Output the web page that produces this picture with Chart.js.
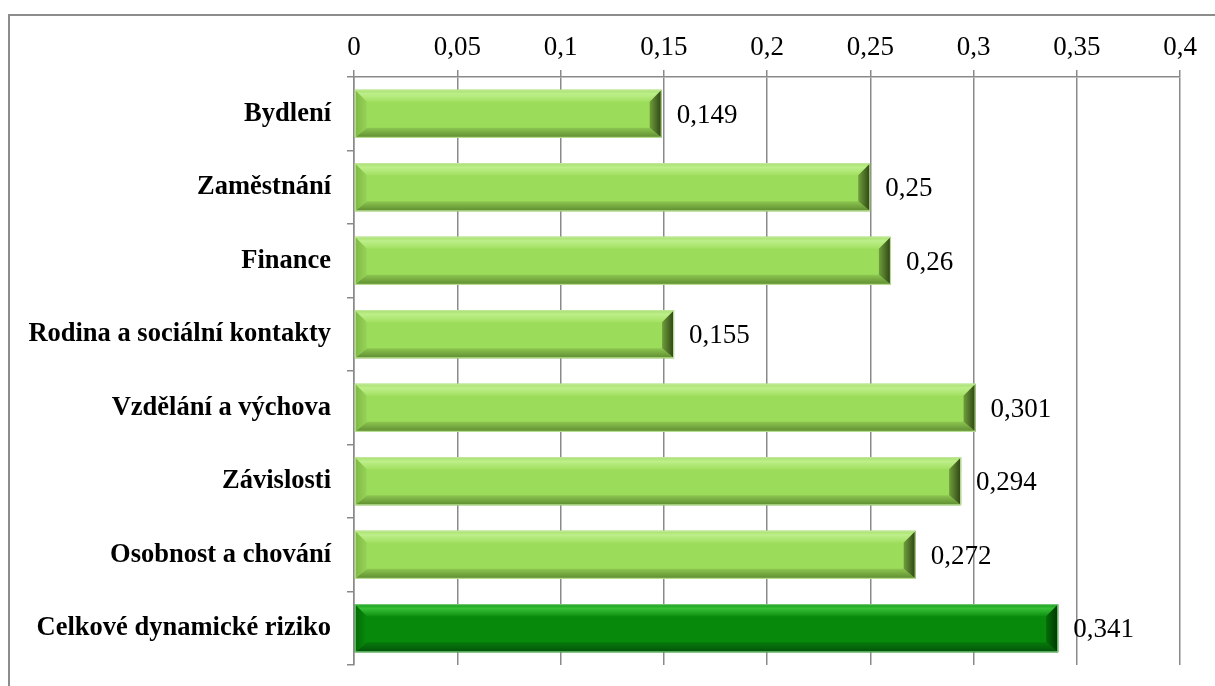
<!DOCTYPE html>
<html>
<head>
<meta charset="utf-8">
<script src="https://cdn.jsdelivr.net/npm/chart.js@4/dist/chart.umd.min.js"></script>
<style>
  html, body { margin: 0; padding: 0; background: #fff; }
  #wrap { width: 1215px; height: 686px; }
</style>
</head>
<body>
<div id="wrap"><canvas id="c" width="1215" height="686"></canvas></div>
<script>
// ---- data ----
const categories = [
  'Bydlení',
  'Zaměstnání',
  'Finance',
  'Rodina a sociální kontakty',
  'Vzdělání a výchova',
  'Závislosti',
  'Osobnost a chování',
  'Celkové dynamické riziko'
];
const values = [0.149, 0.25, 0.26, 0.155, 0.301, 0.294, 0.272, 0.341];
const tickLabels = ['0', '0,05', '0,1', '0,15', '0,2', '0,25', '0,3', '0,35', '0,4'];
const axisMin = 0;
const axisMax = 0.4;
const axisStep = 0.05;
const highlightCategory = 'Celkové dynamické riziko';

// ---- styles ----
const FONT = "'Liberation Serif', 'Times New Roman', serif";
const GRID = '#8a8a8a';
const light = {
  face: '#9cdc5b', border: '#c4e8a0',
  top: ['#a6de6c', '#bdef8a', '#a3e062'], bottom: ['#8cc650', '#5d8a30'],
  left: ['#7fb846', '#95d356'], right: ['#6f9f3c', '#2c4212']
};
const dark = {
  face: '#07890b', border: '#7fce7f',
  top: ['#149a17', '#38c038', '#0e910f'], bottom: ['#067a09', '#03520a'],
  left: ['#046b07', '#078a0b'], right: ['#056c08', '#013603']
};
const styleFor = (i) => categories[i] === highlightCategory ? dark : light;

function fmt(v) { return String(v).replace('.', ','); }

const bevelPlugin = {
  id: 'bevel',
  afterDatasetsDraw(chart) {
    const ctx = chart.ctx;
    const meta = chart.getDatasetMeta(0);
    meta.data.forEach((el, i) => {
      const p = el.getProps(['x', 'y', 'base', 'height'], true);
      const l = Math.min(p.base, p.x), r = Math.max(p.base, p.x);
      const t = p.y - p.height / 2, b = p.y + p.height / 2;
      const c = styleFor(i);
      const bt = 12, bb = 10, bs = 12;
      ctx.save();
      // top band
      let g = ctx.createLinearGradient(0, t, 0, t + bt);
      g.addColorStop(0, c.top[0]); g.addColorStop(0.35, c.top[1]); g.addColorStop(1, c.top[2]);
      ctx.fillStyle = g;
      ctx.beginPath();
      ctx.moveTo(l, t); ctx.lineTo(r, t); ctx.lineTo(r - bs, t + bt); ctx.lineTo(l + bs, t + bt); ctx.closePath();
      ctx.fill();
      // bottom band
      g = ctx.createLinearGradient(0, b - bb, 0, b);
      g.addColorStop(0, c.bottom[0]); g.addColorStop(1, c.bottom[1]);
      ctx.fillStyle = g;
      ctx.beginPath();
      ctx.moveTo(l, b); ctx.lineTo(r, b); ctx.lineTo(r - bs, b - bb); ctx.lineTo(l + bs, b - bb); ctx.closePath();
      ctx.fill();
      // left band
      g = ctx.createLinearGradient(l, 0, l + bs, 0);
      g.addColorStop(0, c.left[0]); g.addColorStop(1, c.left[1]);
      ctx.fillStyle = g;
      ctx.beginPath();
      ctx.moveTo(l, t); ctx.lineTo(l + bs, t + bt); ctx.lineTo(l + bs, b - bb); ctx.lineTo(l, b); ctx.closePath();
      ctx.fill();
      // right band
      g = ctx.createLinearGradient(r - bs, 0, r, 0);
      g.addColorStop(0, c.right[0]); g.addColorStop(1, c.right[1]);
      ctx.fillStyle = g;
      ctx.beginPath();
      ctx.moveTo(r, t); ctx.lineTo(r - bs, t + bt); ctx.lineTo(r - bs, b - bb); ctx.lineTo(r, b); ctx.closePath();
      ctx.fill();
      // outline
      ctx.strokeStyle = c.border;
      ctx.lineWidth = 1;
      ctx.strokeRect(l + 0.5, t + 0.5, r - l - 1, b - t - 1);
      // value label
      ctx.fillStyle = '#000';
      ctx.font = '27px ' + FONT;
      ctx.textAlign = 'left';
      ctx.textBaseline = 'middle';
      ctx.fillText(fmt(values[i]), r + 15, p.y + 2);
      ctx.restore();
    });
  }
};

const framePlugin = {
  id: 'frame',
  beforeDraw(chart) {
    const ctx = chart.ctx;
    ctx.save();
    ctx.fillStyle = '#fff';
    ctx.fillRect(0, 0, chart.width, chart.height);
    ctx.strokeStyle = '#8c8c8c';
    ctx.lineWidth = 2;
    ctx.strokeRect(9, 15, 1400, 1000);
    ctx.restore();
  }
};

new Chart(document.getElementById('c'), {
  type: 'bar',
  data: {
    labels: categories,
    datasets: [{
      data: values,
      backgroundColor: values.map((v, i) => styleFor(i).face),
      borderWidth: 0,
      barPercentage: 0.655,
      categoryPercentage: 1
    }]
  },
  options: {
    indexAxis: 'y',
    responsive: false,
    animation: false,
    devicePixelRatio: 1,
    layout: { padding: { top: 0, right: 35, bottom: 21, left: 0 } },
    plugins: { legend: { display: false }, tooltip: { enabled: false } },
    scales: {
      x: {
        position: 'top',
        min: axisMin,
        max: axisMax,
        ticks: {
          stepSize: axisStep,
          autoSkip: false,
          maxRotation: 0,
          color: '#000',
          padding: 6,
          font: { family: FONT, size: 27 },
          callback: (v, idx) => tickLabels[idx]
        },
        grid: { color: GRID, lineWidth: 1.5, tickLength: 7, drawTicks: true },
        border: { display: true, color: GRID, width: 1.5 },
        afterFit(scale) { scale.height = 77; scale.paddingLeft = 0; scale.paddingRight = 0; }
      },
      y: {
        ticks: {
          color: '#000',
          padding: 16,
          font: { family: FONT, size: 26.5, weight: 'bold' }
        },
        grid: { drawOnChartArea: false, drawTicks: true, tickLength: 7, color: GRID, lineWidth: 1.5, offset: true },
        border: { display: true, color: GRID, width: 1.5 },
        afterFit(scale) { scale.width = 354; scale.paddingTop = 0; scale.paddingBottom = 0; }
      }
    }
  },
  plugins: [framePlugin, bevelPlugin]
});
</script>
</body>
</html>
